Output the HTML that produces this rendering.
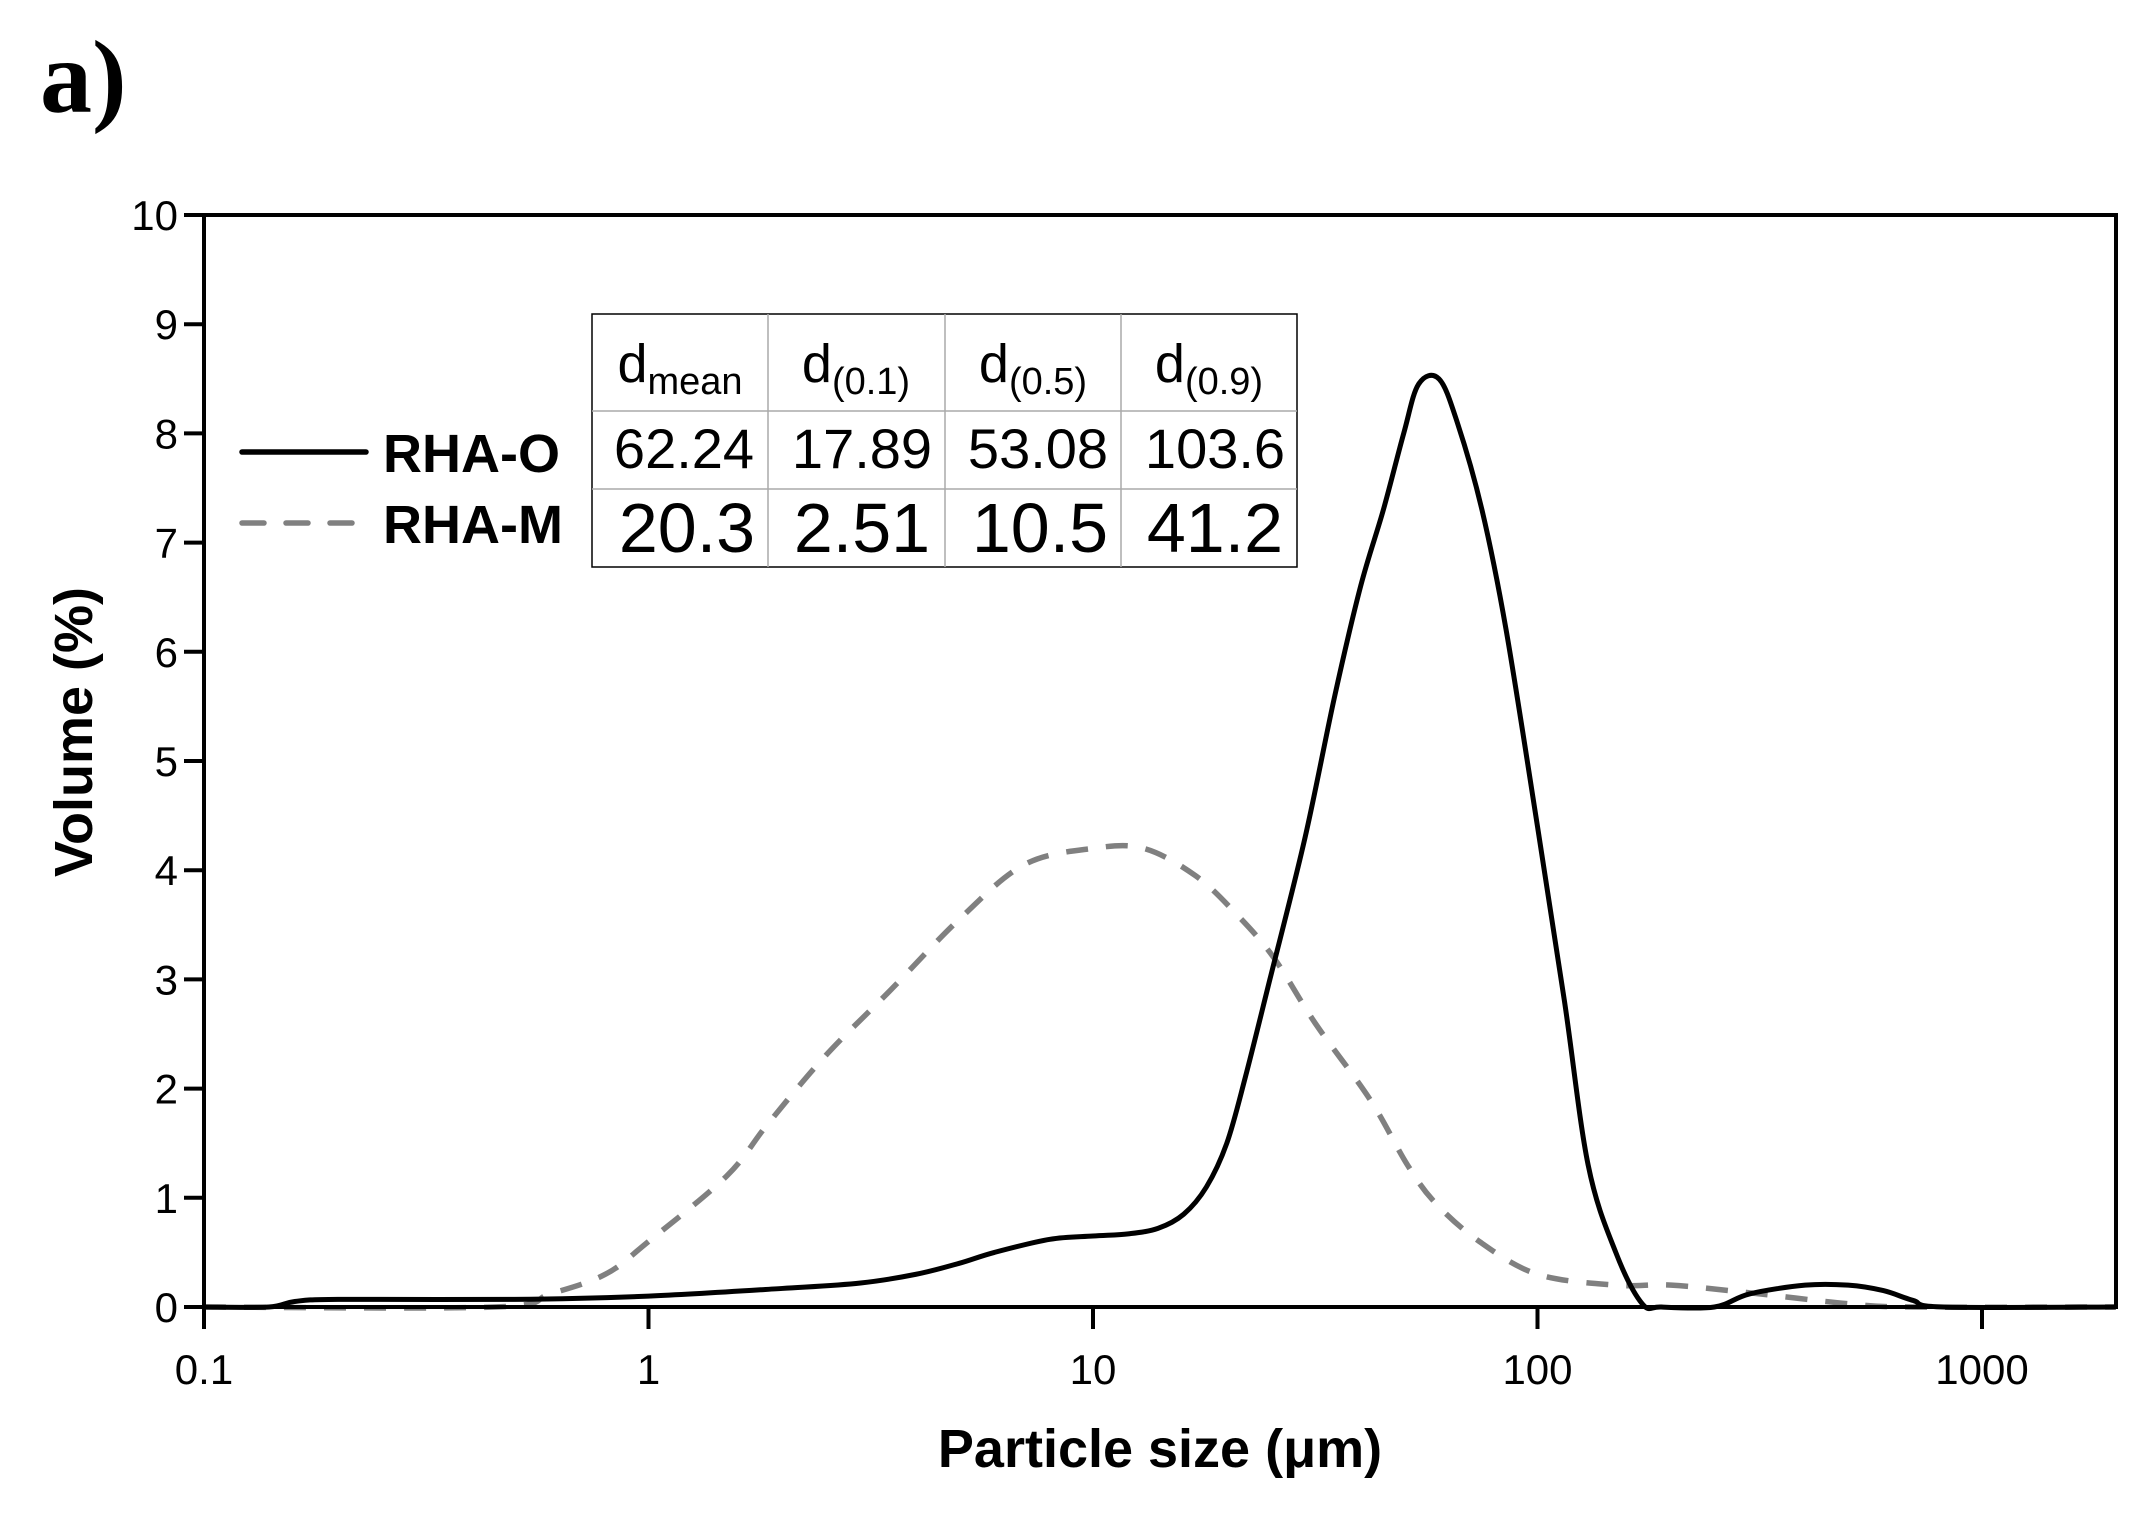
<!DOCTYPE html>
<html><head><meta charset="utf-8"><style>
html,body{margin:0;padding:0;background:#fff;}
svg{display:block;}
</style></head><body>
<svg id="s" width="2148" height="1514" xmlns="http://www.w3.org/2000/svg" font-family="Liberation Sans, Arial, sans-serif">
<text x="40" y="112" font-family="Liberation Serif, serif" font-weight="bold" font-size="104">a)</text>
<g id="curves"></g>
<rect x="204" y="215" width="1912" height="1092" fill="none" stroke="#000" stroke-width="4"/>
<g id="ticks" stroke="#000" stroke-width="4"></g>
<g id="labels" font-size="42" fill="#000"></g>
<text x="1160" y="1467" text-anchor="middle" font-weight="bold" font-size="54">Particle size (μm)</text>
<text transform="translate(92,732) rotate(-90)" text-anchor="middle" font-weight="bold" font-size="54">Volume (%)</text>
<!-- legend -->
<line x1="242" y1="452" x2="366" y2="452" stroke="#000" stroke-width="5.5" stroke-linecap="round"/>
<line x1="242" y1="523" x2="366" y2="523" stroke="#808080" stroke-width="5.5" stroke-linecap="round" stroke-dasharray="22,22"/>
<text x="383" y="472" font-weight="bold" font-size="54">RHA-O</text>
<text x="383" y="543" font-weight="bold" font-size="54">RHA-M</text>
<!-- table -->
<rect x="592" y="314" width="705" height="253" fill="#fff" stroke="#000" stroke-width="1.5"/>
<g stroke="#aaa" stroke-width="1.5">
<line x1="592" y1="411" x2="1297" y2="411"/><line x1="592" y1="489" x2="1297" y2="489"/>
<line x1="768" y1="314" x2="768" y2="567"/><line x1="945" y1="314" x2="945" y2="567"/><line x1="1121" y1="314" x2="1121" y2="567"/>
</g>
<g font-size="54" text-anchor="middle">
<text x="680" y="382">d<tspan font-size="38" dy="12">mean</tspan></text>
<text x="856" y="382">d<tspan font-size="38" dy="12">(0.1)</tspan></text>
<text x="1033" y="382">d<tspan font-size="38" dy="12">(0.5)</tspan></text>
<text x="1209" y="382">d<tspan font-size="38" dy="12">(0.9)</tspan></text>
<text x="684" y="468" font-size="56">62.24</text><text x="862" y="468" font-size="56">17.89</text><text x="1038" y="468" font-size="56">53.08</text><text x="1215" y="468" font-size="56">103.6</text>
<text x="687" y="552" font-size="70">20.3</text><text x="862" y="552" font-size="70">2.51</text><text x="1040" y="552" font-size="70">10.5</text><text x="1215" y="552" font-size="70">41.2</text>
</g>
</svg>
<script>
var L=204,D=444.5,B=1307,U=109.2;
function X(v){return L+(Math.log10(v)+1)*D;}
function Y(v){return B-v*U;}
var NS="http://www.w3.org/2000/svg";
function el(p,t,a,txt){var e=document.createElementNS(NS,t);for(var k in a)e.setAttribute(k,a[k]);if(txt!==undefined)e.textContent=txt;p.appendChild(e);return e;}
var tk=document.getElementById('ticks'),lb=document.getElementById('labels');
for(var i=0;i<=10;i++){var y=Y(i);el(tk,'line',{x1:184,y1:y,x2:204,y2:y});el(lb,'text',{x:178,y:y+15,'text-anchor':'end'},String(i));}
var xs=[0.1,1,10,100,1000];
xs.forEach(function(v){var x=X(v);el(tk,'line',{x1:x,y1:1307,x2:x,y2:1329});el(lb,'text',{x:x,y:1384,'text-anchor':'middle'},String(v));});
function path(pts){pts=pts.map(function(p){return [X(p[0]),Y(p[1])];});
var d='M'+pts[0][0]+','+pts[0][1];
for(var i=0;i<pts.length-1;i++){var p0=pts[Math.max(0,i-1)],p1=pts[i],p2=pts[i+1],p3=pts[Math.min(pts.length-1,i+2)];
var c1=[p1[0]+(p2[0]-p0[0])/6,p1[1]+(p2[1]-p0[1])/6],c2=[p2[0]-(p3[0]-p1[0])/6,p2[1]-(p3[1]-p1[1])/6];
d+=' C'+c1+' '+c2+' '+p2;}return d;}
var O=[[0.1,0],[0.14,0],[0.16,0.05],[0.2,0.07],[0.5,0.07],[1,0.1],[2,0.17],[3,0.22],[4,0.3],[5,0.4],[6,0.5],[8,0.62],[10,0.65],[12,0.67],[14,0.72],[16,0.85],[18,1.1],[20,1.5],[22,2.1],[25,3],[30,4.3],[35,5.6],[40,6.6],[45,7.3],[50,8.0],[54,8.45],[60,8.5],[66,8.1],[75,7.3],[85,6.2],[100,4.4],[115,2.8],[130,1.3],[150,0.5],[172,0.03],[190,0],[250,0],[300,0.12],[400,0.2],[500,0.2],[600,0.15],[700,0.06],[820,0],[2000,0]];
var M=[[0.1,0],[0.45,0],[0.6,0.12],[0.8,0.3],[1,0.6],[1.5,1.2],[1.85,1.67],[2.5,2.3],[3.5,2.9],[5,3.55],[7,4.05],[10,4.2],[13,4.2],[17,3.95],[21,3.6],[25.5,3.2],[31.6,2.6],[42,1.9],[51,1.3],[59,0.95],[74,0.6],[100,0.3],[150,0.2],[200,0.2],[300,0.13],[500,0.03],[700,0],[2000,0]];
var g=document.getElementById('curves');
el(g,'path',{d:path(M),fill:'none',stroke:'#808080','stroke-width':5.5,'stroke-dasharray':'22,18'});
el(g,'path',{d:path(O),fill:'none',stroke:'#000','stroke-width':5,'stroke-linejoin':'round'});
</script>
</body></html>
